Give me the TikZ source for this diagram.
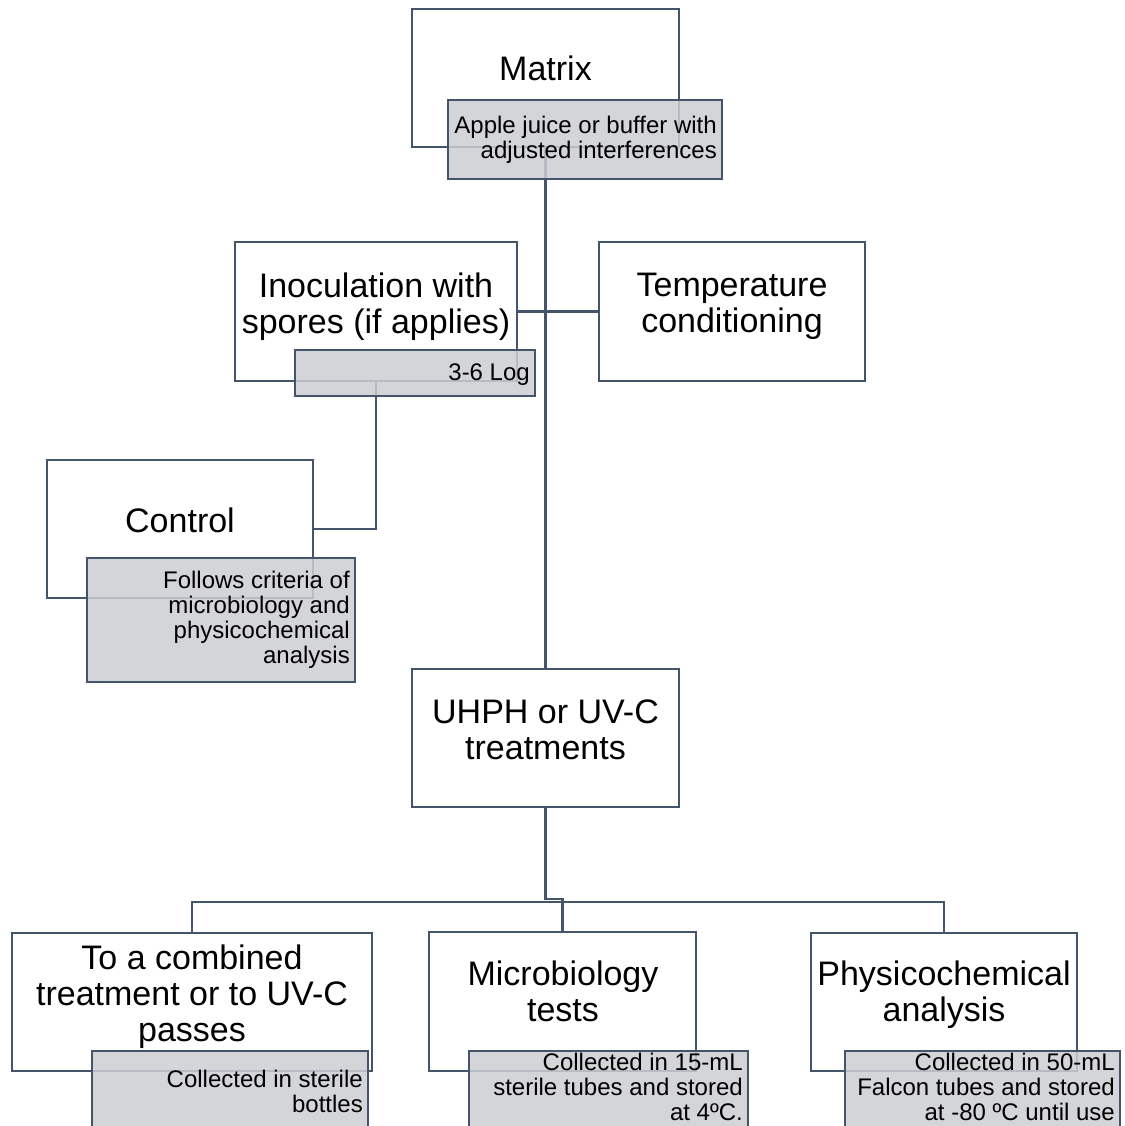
\documentclass[tikz,border=0pt]{standalone}
\usepackage{fontspec}
\setmainfont{Liberation Sans}
\usetikzlibrary{backgrounds}
\definecolor{bc}{RGB}{68,84,106}
\definecolor{gf}{RGB}{205,206,211}
\begin{document}
\begin{tikzpicture}[x=1pt,y=-1pt,
  mainbox/.style={draw=bc,line width=2.5pt,fill=white,inner sep=0pt},
  notebox/.style={draw=bc,line width=2.5pt,fill=gf,fill opacity=0.85,inner sep=0pt},
  notetext/.style={align=right,anchor=east,inner sep=0pt,
     font=\fontsize{24}{25}\selectfont},
  bigtext/.style={align=center,inner sep=0pt,font=\fontsize{34}{36}\selectfont},
  link/.style={draw=bc,line width=2.5pt}]
\clip (0,0) rectangle (1124,1126);

% Matrix
\node[mainbox,minimum width=267pt,minimum height=138pt] (matrix) at (545.5,78) {};
\node[bigtext] (matrixT) at (545.5,68) {Matrix};
\node[notebox,minimum width=274pt,minimum height=79pt] (matrixN) at (585,139.5) {};
\node[notetext] (matrixNT) at (717,139.5) {Apple juice or buffer with\\adjusted interferences};

% Inoculation
\node[mainbox,minimum width=282pt,minimum height=139pt] (inoc) at (376,311.5) {};
\node[bigtext] (inocT) at (376,306.5) {Inoculation with\\spores (if applies)};
\node[notebox,minimum width=240pt,minimum height=46pt] (inocN) at (415,373) {};
\node[notetext] (inocNT) at (530,375) {3-6 Log};

% Temperature
\node[mainbox,minimum width=266pt,minimum height=139pt] (temp) at (732,311.5) {};
\node[bigtext] (tempT) at (732,306.5) {Temperature\\conditioning};

% Control
\node[mainbox,minimum width=266pt,minimum height=138pt] (control) at (180,529) {};
\node[bigtext] (controlT) at (180,520) {Control};
\node[notebox,minimum width=268pt,minimum height=124pt] (controlN) at (221,620) {};
\node[notetext] (controlNT) at (350,620)
  {Follows criteria of\\microbiology and\\physicochemical\\analysis};

% UHPH
\node[mainbox,minimum width=267pt,minimum height=138pt] (uhph) at (545.5,738) {};
\node[bigtext] (uhphT) at (545.5,730) {UHPH or UV-C\\treatments};

% bottom row
\node[mainbox,minimum width=360pt,minimum height=138pt] (b1) at (192,1002) {};
\node[bigtext] (b1T) at (192,997) {To a combined\\treatment or to UV-C\\passes};
\node[notebox,minimum width=276pt,minimum height=80pt] (b1N) at (230,1091) {};
\node[notetext] (b1NT) at (363,1091) {Collected in sterile\\bottles};

\node[mainbox,minimum width=267pt,minimum height=139pt] (b2) at (562.5,1001.5) {};
\node[bigtext] (b2T) at (563,991) {Microbiology\\tests};
\node[notebox,minimum width=279pt,minimum height=80pt] (b2N) at (608.5,1091) {};
\node[notetext] (b2NT) at (743,1087)
  {Collected in 15-mL\\sterile tubes and stored\\at 4ºC.};

\node[mainbox,minimum width=266pt,minimum height=138pt] (b3) at (944,1002) {};
\node[bigtext] (b3T) at (944,995) {Physicochemical\\analysis};
\node[notebox,minimum width=275pt,minimum height=80pt] (b3N) at (982.5,1091) {};
\node[notetext] (b3NT) at (1115,1087)
  {Collected in 50-mL\\Falcon tubes and stored\\at -80 ºC until use};

\coordinate (jog) at (545.5,899);
\coordinate (bus) at (545.5,902);

\begin{pgfonlayer}{background}
  \fill[white] (0,0) rectangle (1124,1126);
  \draw[link] (matrix.south) -- (uhph.north);
  \draw[link] (inoc.east) -- (temp.west);
  \draw[link] (inoc.south) |- (control.east);
  \draw[link] (uhph.south) -- (jog) -| (b2.north);
  \draw[link] (b1.north) |- (bus) -| (b3.north);
\end{pgfonlayer}
\end{tikzpicture}
\end{document}
